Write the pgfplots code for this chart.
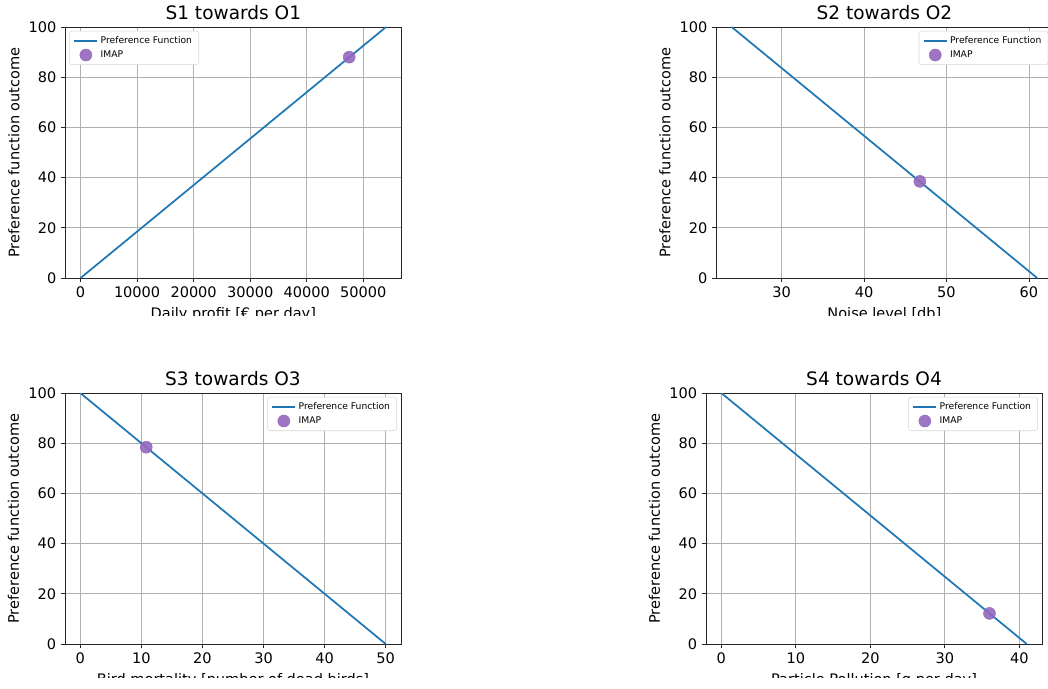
\documentclass[border=0pt]{standalone}
\usepackage{fontspec}
\setmainfont{DejaVu Sans}
\usepackage{pgfplots}
\pgfplotsset{compat=1.18}
\definecolor{tabblue}{HTML}{1F77B4}
\definecolor{tabpurple}{HTML}{9467BD}
\definecolor{gridgray}{HTML}{B0B0B0}
\definecolor{legframe}{HTML}{D6D6D6}
\newcommand{\legsmall}{\fontsize{6.9}{8.5}\selectfont}

\pgfplotsset{
  pref/.style={
    scale only axis, width=252pt, height=188.25pt,
    anchor=north west,
    ymin=0, ymax=100, ytick={0,20,...,100},
    grid=major, grid style={gridgray, line width=0.6pt},
    axis line style={line width=0.6pt, black!85},
    tick style={black!85, line width=0.6pt},
    tick align=outside, major tick length=3.2pt,
    xtick pos=bottom, ytick pos=left,
    /pgf/number format/assume math mode=true,
    /pgf/number format/set thousands separator={},
    scaled ticks=false,
    ticklabel style={font=\fontsize{10.9}{13}\selectfont},
    label style={font=\fontsize{10.9}{13}\selectfont},
    title style={font=\fontsize{13.9}{16}\selectfont, yshift=-4pt},
    ylabel={Preference function outcome},
    legend cell align=left,
    legend style={draw=legframe, rounded corners=2pt, fill=white, font=\legsmall},
  },
  legNW/.style={legend style={at={(0.012,0.985)}, anchor=north west}},
  legNE/.style={legend style={at={(0.988,0.985)}, anchor=north east}},
  pfline/.style={color=tabblue, line width=1.3pt,
    legend image code/.code={\draw[draw=tabblue, line width=1.3pt]
      (0pt,0pt) -- (17pt,0pt);}},
  imap/.style={only marks, mark=*, mark size=4.5pt,
    mark options={fill=tabpurple, draw=tabpurple, opacity=0.9}},
}

\begin{document}
\begin{tikzpicture}
\path[use as bounding box] (0,0) rectangle (786pt,-516pt);
\clip (0,0) rectangle (786pt,-516pt);

% top row: x labels are cut off in the reference
\begin{scope}
\clip (0,0) rectangle (786pt,-236.25pt);
\begin{axis}[pref, legNW, at={(49pt,-20.25pt)},
    title={S1 towards O1},
    xlabel={Daily profit [€ per day]},
    xmin=-2702, xmax=56752, xtick={0,10000,...,50000}]
  \addplot[pfline] coordinates {(0,0) (54050,100)};
  \addplot[imap] coordinates {(47530,88)};
  \legend{Preference Function, IMAP}
\end{axis}

\begin{axis}[pref, legNE, at={(537.3pt,-20.25pt)},
    title={S2 towards O2},
    xlabel={Noise level [db]},
    xmin=22.09, xmax=62.85, xtick={30,40,50,60}]
  \addplot[pfline] coordinates {(23.94,100) (61.0,0)};
  \addplot[imap] coordinates {(46.77,38.5)};
  \legend{Preference Function, IMAP}
\end{axis}
\end{scope}

% bottom row: cut just below the x labels
\begin{scope}
\clip (0,-240pt) rectangle (786pt,-507.75pt);
\begin{axis}[pref, legNE, at={(48.75pt,-294.75pt)},
    title={S3 towards O3},
    xlabel={Bird mortality [number of dead birds]},
    xmin=-2.5, xmax=52.5, xtick={0,10,...,50}]
  \addplot[pfline] coordinates {(0,100) (50,0)};
  \addplot[imap] coordinates {(10.8,78.4)};
  \legend{Preference Function, IMAP}
\end{axis}

\begin{axis}[pref, legNE, at={(529.5pt,-294.75pt)},
    title={S4 towards O4},
    xlabel={Particle Pollution [g per day]},
    xmin=-2.05, xmax=43.05, xtick={0,10,...,40}]
  \addplot[pfline] coordinates {(0,100) (41,0)};
  \addplot[imap] coordinates {(36.0,12.2)};
  \legend{Preference Function, IMAP}
\end{axis}
\end{scope}
\end{tikzpicture}
\end{document}
